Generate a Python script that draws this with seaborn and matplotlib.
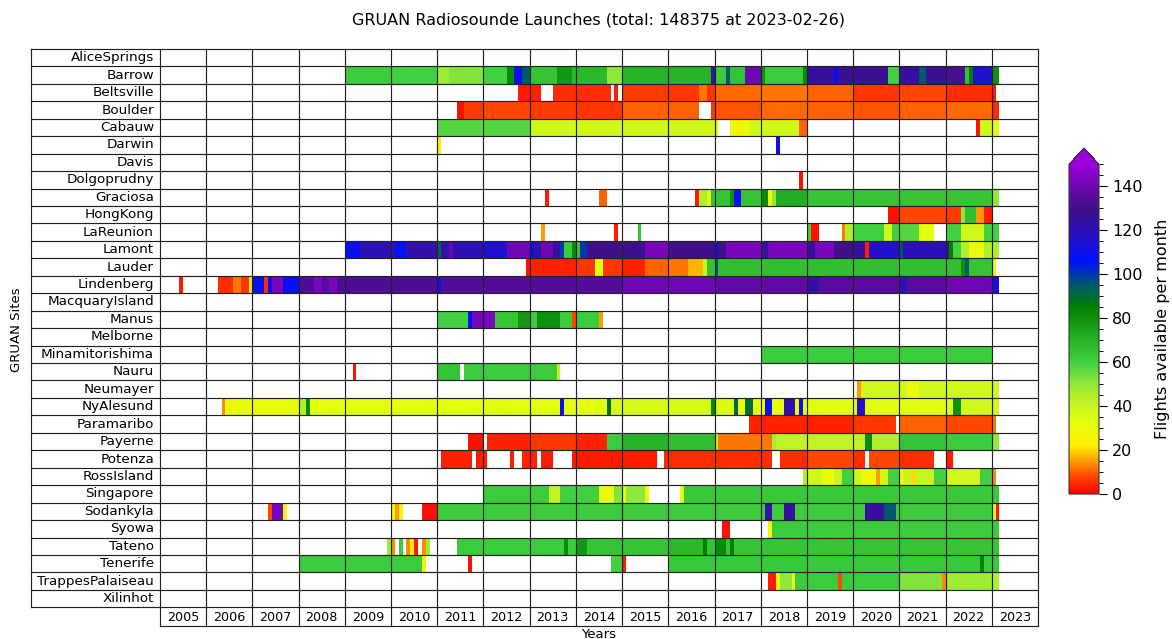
import numpy as np
import pandas as pd
import matplotlib
matplotlib.use("Agg")
import matplotlib.pyplot as plt
import seaborn as sns
from matplotlib.colors import LinearSegmentedColormap
from matplotlib.ticker import MultipleLocator

# ---- data: monthly launch counts per site, as (first month, last month, value) runs ----
sites = ["AliceSprings", "Barrow", "Beltsville", "Boulder", "Cabauw", "Darwin", "Davis",
         "Dolgoprudny", "Graciosa", "HongKong", "LaReunion", "Lamont", "Lauder", "Lindenberg",
         "MacquaryIsland", "Manus", "Melborne", "Minamitorishima", "Nauru", "Neumayer",
         "NyAlesund", "Paramaribo", "Payerne", "Potenza", "RossIsland", "Singapore",
         "Sodankyla", "Syowa", "Tateno", "Tenerife", "TrappesPalaiseau", "Xilinhot"]
years = list(range(2005, 2024))

alice_springs = []
barrow = [("2009-01", "2009-12", 62), ("2010-01", "2010-12", 60), ("2011-01", "2011-03", 48),
          ("2011-04", "2011-12", 52), ("2012-01", "2012-06", 60), ("2012-07", "2012-08", 82),
          ("2012-09", "2012-10", 110), ("2012-11", "2012-12", 95), ("2013-01", "2013-07", 64),
          ("2013-08", "2013-11", 78), ("2013-12", "2014-08", 68), ("2014-09", "2014-12", 50),
          ("2015-01", "2016-11", 70), ("2016-12", "2016-12", 125), ("2017-01", "2017-03", 62),
          ("2017-04", "2017-04", 95), ("2017-05", "2017-08", 65), ("2017-09", "2017-12", 140),
          ("2018-01", "2018-01", 80), ("2018-02", "2018-11", 62), ("2018-12", "2018-12", 82),
          ("2019-01", "2019-07", 125), ("2019-08", "2019-08", 108), ("2019-09", "2020-09", 128),
          ("2020-10", "2020-12", 60), ("2021-01", "2021-05", 125), ("2021-06", "2021-07", 95),
          ("2021-08", "2021-12", 128), ("2022-01", "2022-05", 132), ("2022-06", "2022-06", 65),
          ("2022-07", "2022-07", 85), ("2022-08", "2022-12", 115), ("2023-01", "2023-02", 80)]
beltsville = [("2012-10", "2012-12", 3), ("2013-01", "2013-03", 4), ("2013-07", "2013-12", 5),
              ("2014-01", "2014-09", 5), ("2014-11", "2014-11", 3), ("2015-01", "2015-12", 7),
              ("2016-01", "2016-08", 6), ("2016-09", "2016-10", 12), ("2016-11", "2016-12", 6),
              ("2017-01", "2017-12", 11), ("2018-01", "2018-12", 12), ("2019-01", "2019-12", 10),
              ("2020-01", "2020-12", 6), ("2021-01", "2021-12", 8), ("2022-01", "2022-12", 5),
              ("2023-01", "2023-01", 3)]
boulder = [("2011-06", "2011-07", 2), ("2011-08", "2011-12", 7), ("2012-01", "2012-12", 8),
           ("2013-01", "2013-12", 7), ("2014-01", "2014-12", 6), ("2015-01", "2015-12", 10),
           ("2016-01", "2016-08", 10), ("2016-12", "2016-12", 6), ("2017-01", "2017-12", 9),
           ("2018-01", "2018-12", 11), ("2019-01", "2019-12", 10), ("2020-01", "2020-12", 9),
           ("2021-01", "2021-12", 10), ("2022-01", "2022-12", 11), ("2023-01", "2023-02", 5)]
cabauw = [("2011-01", "2012-12", 58), ("2013-01", "2016-12", 38), ("2017-01", "2017-01", 22),
          ("2017-05", "2017-09", 28), ("2017-10", "2018-10", 38), ("2018-11", "2018-12", 10),
          ("2022-09", "2022-09", 2), ("2022-10", "2022-12", 38), ("2023-01", "2023-02", 27)]
darwin = [("2011-01", "2011-01", 25), ("2018-05", "2018-05", 110)]
davis = []
dolgoprudny = [("2018-11", "2018-11", 2)]
graciosa = [("2013-05", "2013-05", 3), ("2014-07", "2014-08", 10), ("2016-08", "2016-08", 3),
            ("2016-09", "2016-10", 45), ("2016-11", "2016-11", 32), ("2016-12", "2017-04", 65),
            ("2017-05", "2017-05", 80), ("2017-06", "2017-07", 108), ("2017-08", "2017-12", 64),
            ("2018-01", "2018-02", 82), ("2018-03", "2018-03", 30), ("2018-04", "2018-04", 50),
            ("2018-05", "2018-12", 72), ("2019-01", "2022-12", 64), ("2023-01", "2023-02", 50)]
hong_kong = [("2020-10", "2020-12", 2), ("2021-01", "2021-12", 8), ("2022-01", "2022-04", 7),
             ("2022-05", "2022-05", 50), ("2022-06", "2022-08", 66), ("2022-09", "2022-10", 15),
             ("2022-11", "2022-12", 3)]
la_reunion = [("2013-04", "2013-04", 15), ("2014-11", "2014-11", 3), ("2015-05", "2015-05", 65),
              ("2019-01", "2019-01", 60), ("2019-02", "2019-03", 2), ("2019-10", "2019-10", 12),
              ("2019-11", "2019-12", 45), ("2020-01", "2020-08", 60), ("2020-09", "2020-10", 38),
              ("2020-11", "2020-12", 60), ("2021-01", "2021-05", 58), ("2021-06", "2021-09", 32),
              ("2022-01", "2022-04", 60), ("2022-05", "2022-10", 38), ("2022-11", "2023-02", 60)]
lamont = [("2009-01", "2009-04", 108), ("2009-05", "2009-12", 120), ("2010-01", "2010-01", 122),
          ("2010-02", "2010-04", 106), ("2010-05", "2010-12", 122), ("2011-01", "2011-01", 92),
          ("2011-02", "2011-03", 122), ("2011-04", "2011-04", 140), ("2011-05", "2011-12", 120),
          ("2012-01", "2012-06", 114), ("2012-07", "2012-12", 140), ("2013-01", "2013-01", 108),
          ("2013-02", "2013-03", 122), ("2013-04", "2013-06", 140), ("2013-07", "2013-08", 125),
          ("2013-09", "2013-09", 100), ("2013-10", "2013-11", 62), ("2013-12", "2013-12", 82),
          ("2014-01", "2014-01", 64), ("2014-02", "2014-03", 100), ("2014-04", "2014-12", 130),
          ("2015-01", "2015-06", 128), ("2015-07", "2015-12", 142), ("2016-01", "2016-12", 130),
          ("2017-01", "2017-01", 110), ("2017-02", "2017-03", 130), ("2017-04", "2017-12", 142),
          ("2018-01", "2018-02", 125), ("2018-03", "2018-12", 142), ("2019-01", "2019-02", 125),
          ("2019-03", "2019-07", 142), ("2019-08", "2019-12", 130), ("2020-01", "2020-03", 125),
          ("2020-04", "2020-04", 3), ("2020-05", "2020-12", 116), ("2021-01", "2021-01", 95),
          ("2021-02", "2021-12", 120), ("2022-01", "2022-01", 125), ("2022-02", "2022-02", 85),
          ("2022-03", "2022-04", 60), ("2022-05", "2022-06", 45), ("2022-07", "2022-10", 30),
          ("2022-11", "2023-02", 45)]
lauder = [("2012-12", "2012-12", 2), ("2013-01", "2013-12", 4), ("2014-01", "2014-05", 6),
          ("2014-06", "2014-07", 32), ("2014-08", "2014-12", 6), ("2015-01", "2015-06", 4),
          ("2015-07", "2015-12", 10), ("2016-01", "2016-05", 12), ("2016-06", "2016-09", 17),
          ("2016-10", "2016-10", 40), ("2016-11", "2016-12", 65), ("2017-01", "2017-01", 95),
          ("2017-02", "2022-04", 66), ("2022-05", "2022-05", 80), ("2022-06", "2022-06", 95),
          ("2022-07", "2022-12", 64), ("2023-01", "2023-01", 28)]
lindenberg = [("2005-06", "2005-06", 3), ("2006-04", "2006-07", 5), ("2006-08", "2006-09", 12),
              ("2006-10", "2006-11", 6), ("2006-12", "2006-12", 25), ("2007-01", "2007-03", 108),
              ("2007-04", "2007-04", 5), ("2007-05", "2007-05", 110), ("2007-06", "2007-08", 142),
              ("2007-09", "2007-12", 108), ("2008-01", "2008-04", 133), ("2008-05", "2008-06", 142),
              ("2008-07", "2008-08", 134), ("2008-09", "2008-10", 142), ("2008-11", "2008-12", 133),
              ("2009-01", "2010-12", 133), ("2011-01", "2011-01", 112), ("2011-02", "2014-12", 134),
              ("2015-01", "2016-12", 140), ("2017-01", "2018-12", 137), ("2019-01", "2019-03", 124),
              ("2019-04", "2020-12", 135), ("2021-01", "2021-02", 120), ("2021-03", "2021-12", 135),
              ("2022-01", "2022-12", 140), ("2023-01", "2023-02", 112)]
macquary_island = []
manus = [("2011-01", "2011-08", 60), ("2011-09", "2011-09", 105), ("2011-10", "2012-03", 142),
         ("2012-04", "2012-09", 64), ("2012-10", "2012-12", 78), ("2013-01", "2013-02", 62),
         ("2013-03", "2013-08", 80), ("2013-09", "2013-11", 62), ("2013-12", "2013-12", 8),
         ("2014-01", "2014-06", 62), ("2014-07", "2014-07", 15)]
melborne = []
minamitorishima = [("2018-01", "2022-12", 62)]
nauru = [("2009-03", "2009-03", 2), ("2011-01", "2011-06", 65), ("2011-08", "2013-07", 62),
         ("2013-08", "2013-08", 42)]
neumayer = [("2020-02", "2020-02", 15), ("2020-03", "2021-02", 38), ("2021-03", "2021-05", 30),
            ("2021-06", "2023-02", 38)]
ny_alesund = [("2006-05", "2006-05", 14), ("2006-06", "2007-12", 30), ("2008-01", "2008-02", 45),
              ("2008-03", "2008-03", 82), ("2008-04", "2013-08", 32), ("2013-09", "2013-09", 108),
              ("2013-10", "2014-08", 32), ("2014-09", "2014-09", 90), ("2014-10", "2016-11", 36),
              ("2016-12", "2016-12", 82), ("2017-01", "2017-05", 34), ("2017-06", "2017-06", 92),
              ("2017-07", "2017-08", 28), ("2017-09", "2017-10", 90), ("2017-11", "2018-01", 30),
              ("2018-02", "2018-03", 110), ("2018-04", "2018-06", 30), ("2018-07", "2018-09", 122),
              ("2018-10", "2018-10", 30), ("2018-11", "2018-11", 108), ("2018-12", "2020-01", 33),
              ("2020-02", "2020-03", 115), ("2020-04", "2022-02", 33), ("2022-03", "2022-04", 80),
              ("2022-05", "2023-02", 38)]
paramaribo = [("2017-10", "2019-12", 4), ("2020-01", "2020-11", 6), ("2021-01", "2021-12", 10),
              ("2022-01", "2022-12", 8), ("2023-01", "2023-01", 12)]
payerne = [("2011-09", "2011-12", 2), ("2012-02", "2012-12", 4), ("2013-01", "2013-12", 6),
           ("2014-01", "2014-08", 4), ("2014-09", "2014-12", 62), ("2015-01", "2015-12", 70),
           ("2016-01", "2016-12", 66), ("2017-01", "2017-01", 40), ("2017-02", "2018-03", 12),
           ("2018-04", "2018-04", 46), ("2018-05", "2020-03", 42), ("2020-04", "2020-05", 82),
           ("2020-06", "2020-12", 45), ("2021-01", "2021-12", 65), ("2022-01", "2022-12", 62),
           ("2023-01", "2023-02", 50)]
potenza = [("2011-02", "2011-09", 4), ("2011-11", "2012-01", 3), ("2012-08", "2012-08", 3),
           ("2012-11", "2013-02", 4), ("2013-04", "2013-06", 3), ("2013-12", "2015-09", 3),
           ("2015-12", "2018-03", 5), ("2018-06", "2018-12", 5), ("2019-01", "2019-12", 8),
           ("2020-01", "2020-03", 5), ("2020-05", "2020-12", 8), ("2021-01", "2021-09", 5),
           ("2022-01", "2022-02", 3)]
ross_island = [("2018-12", "2018-12", 45), ("2019-01", "2019-04", 38), ("2019-05", "2019-07", 30),
               ("2019-08", "2019-09", 40), ("2019-10", "2019-12", 60), ("2020-01", "2020-02", 40),
               ("2020-03", "2020-06", 28), ("2020-07", "2020-07", 15), ("2020-08", "2020-09", 38),
               ("2020-10", "2020-12", 60), ("2021-01", "2021-01", 25), ("2021-02", "2021-03", 40),
               ("2021-04", "2021-04", 20), ("2021-05", "2021-09", 40), ("2021-10", "2021-12", 60),
               ("2022-01", "2022-09", 38), ("2022-10", "2022-12", 60), ("2023-01", "2023-01", 14)]
singapore = [("2012-01", "2013-05", 62), ("2013-06", "2013-08", 42), ("2013-09", "2014-06", 60),
             ("2014-07", "2014-10", 30), ("2014-11", "2014-12", 52), ("2015-01", "2015-01", 30),
             ("2015-02", "2015-06", 50), ("2015-07", "2015-07", 30), ("2016-04", "2016-04", 30),
             ("2016-05", "2023-02", 63)]
sodankyla = [("2007-05", "2007-05", 8), ("2007-06", "2007-08", 142), ("2007-09", "2007-09", 30),
             ("2010-01", "2010-01", 28), ("2010-02", "2010-02", 15), ("2010-03", "2010-03", 28),
             ("2010-09", "2010-12", 2), ("2011-01", "2018-01", 62), ("2018-02", "2018-03", 122),
             ("2018-04", "2018-06", 62), ("2018-07", "2018-09", 125), ("2018-10", "2020-03", 62),
             ("2020-04", "2020-08", 125), ("2020-09", "2020-11", 95), ("2020-12", "2022-12", 62),
             ("2023-01", "2023-01", 30), ("2023-02", "2023-02", 3)]
syowa = [("2017-03", "2017-04", 2), ("2018-03", "2018-03", 28), ("2018-04", "2023-02", 62)]
tateno = [("2009-12", "2009-12", 48), ("2010-01", "2010-01", 14), ("2010-03", "2010-03", 62),
          ("2010-05", "2010-05", 14), ("2010-06", "2010-06", 22), ("2010-07", "2010-07", 3),
          ("2010-09", "2010-09", 14), ("2010-10", "2010-10", 48), ("2011-06", "2013-09", 62),
          ("2013-10", "2013-10", 82), ("2013-11", "2013-12", 62), ("2014-01", "2014-03", 78),
          ("2014-04", "2015-12", 64), ("2016-01", "2016-09", 68), ("2016-10", "2016-10", 85),
          ("2016-11", "2016-12", 65), ("2017-01", "2017-03", 82), ("2017-04", "2017-04", 65),
          ("2017-05", "2017-05", 85), ("2017-06", "2023-02", 64)]
tenerife = [("2008-01", "2010-08", 62), ("2010-09", "2010-09", 28), ("2011-09", "2011-09", 2),
            ("2014-10", "2014-12", 60), ("2015-01", "2015-01", 3), ("2016-01", "2022-09", 63),
            ("2022-10", "2022-10", 85), ("2022-11", "2023-02", 63)]
trappes_palaiseau = [("2018-03", "2018-04", 3), ("2018-05", "2018-05", 30), ("2018-06", "2018-08", 50),
                     ("2018-09", "2018-09", 30), ("2018-10", "2019-08", 62), ("2019-09", "2019-09", 8),
                     ("2019-10", "2020-12", 62), ("2021-01", "2021-11", 52), ("2021-12", "2021-12", 14),
                     ("2022-01", "2022-12", 48), ("2023-01", "2023-02", 45)]
xilinhot = []

site_segments = [alice_springs, barrow, beltsville, boulder, cabauw, darwin, davis, dolgoprudny,
                 graciosa, hong_kong, la_reunion, lamont, lauder, lindenberg, macquary_island, manus,
                 melborne, minamitorishima, nauru, neumayer, ny_alesund, paramaribo, payerne, potenza,
                 ross_island, singapore, sodankyla, syowa, tateno, tenerife, trappes_palaiseau, xilinhot]


def month_index(s):
    y, m = s.split("-")
    return (int(y) - years[0]) * 12 + int(m) - 1


n_months = len(years) * 12
counts = np.full((len(sites), n_months), np.nan)
for i, segs in enumerate(site_segments):
    for start, end, val in segs:
        counts[i, month_index(start):month_index(end) + 1] = val
df = pd.DataFrame(counts, index=sites)

# colour map red -> yellow -> green -> blue -> purple
cmap = LinearSegmentedColormap.from_list("flights", [
    (0 / 150, "#ff0000"), (8 / 150, "#ff4a00"), (16 / 150, "#ffaa00"), (22 / 150, "#fff000"),
    (32 / 150, "#e4ff10"), (42 / 150, "#bff224"), (50 / 150, "#90e83a"), (60 / 150, "#40d040"),
    (72 / 150, "#22ae22"), (85 / 150, "#008000"), (95 / 150, "#005a6a"), (106 / 150, "#0010ff"),
    (118 / 150, "#2a10c0"), (130 / 150, "#40108a"), (150 / 150, "#9a00d8")])

W, H = 1172, 639
fig = plt.figure(figsize=(W / 100, H / 100), dpi=100)
left, right, top, bottom = 160, 1038, 49, 607.3
ax = fig.add_axes([left / W, 1 - bottom / H, (right - left) / W, (bottom - top) / H])
cax = fig.add_axes([1069 / W, 1 - 494 / H, 30 / W, 346 / H])

sns.heatmap(df, ax=ax, cmap=cmap, vmin=0, vmax=150, cbar_ax=cax,
            cbar_kws={"extend": "max", "ticks": list(range(0, 141, 20))},
            xticklabels=False, yticklabels=False)
ax.set_xticks([])
ax.set_yticks([])
ax.set_xlabel("")
ax.set_ylabel("")

n_rows = len(sites)
px_month = (right - left) / n_months
px_row = (bottom - top) / n_rows
label_x0 = -(left - 31) / px_month
year_y1 = n_rows + (626.3 - bottom) / px_row
lc = "#222222"

# table grid over the heatmap
for r in range(n_rows + 1):
    ax.plot([label_x0, n_months], [r, r], color=lc, lw=0.85, clip_on=False, zorder=5)
for k in range(len(years) + 1):
    ax.plot([k * 12, k * 12], [0, year_y1], color=lc, lw=0.85, clip_on=False, zorder=5)
ax.plot([label_x0, label_x0], [0, n_rows], color=lc, lw=0.85, clip_on=False, zorder=5)
ax.plot([0, n_months], [year_y1, year_y1], color=lc, lw=0.85, clip_on=False, zorder=5)

for r, name in enumerate(sites):
    ax.text(-6 / px_month, r + 0.5, name, ha="right", va="center", fontsize=9.7, clip_on=False)
for k, yr in enumerate(years):
    ax.text(k * 12 + 6, (n_rows + year_y1) / 2 + 0.05, str(yr), ha="center", va="center",
            fontsize=9.2, clip_on=False)

fig.text(599 / W, 1 - 20 / H, "GRUAN Radiosounde Launches (total: 148375 at 2023-02-26)",
         ha="center", va="center", fontsize=11.5)
fig.text(599 / W, 1 - 627.5 / H, "Years", ha="center", va="top", fontsize=9.5)
fig.text(17 / W, 1 - 330 / H, "GRUAN Sites", ha="center", va="center", rotation=90, fontsize=9.5)

cbar = ax.collections[0].colorbar
cbar.outline.set_linewidth(0.8)
cbar.outline.set_edgecolor("#333333")
cbar.ax.yaxis.set_minor_locator(MultipleLocator(5))
cbar.ax.tick_params(which="major", length=5.5, width=0.8, labelsize=11.5, pad=4)
cbar.ax.tick_params(which="minor", length=3, width=0.7)
cbar.set_label("Flights available per month", fontsize=11.5, labelpad=9)

fig.savefig("out.png", dpi=100)
